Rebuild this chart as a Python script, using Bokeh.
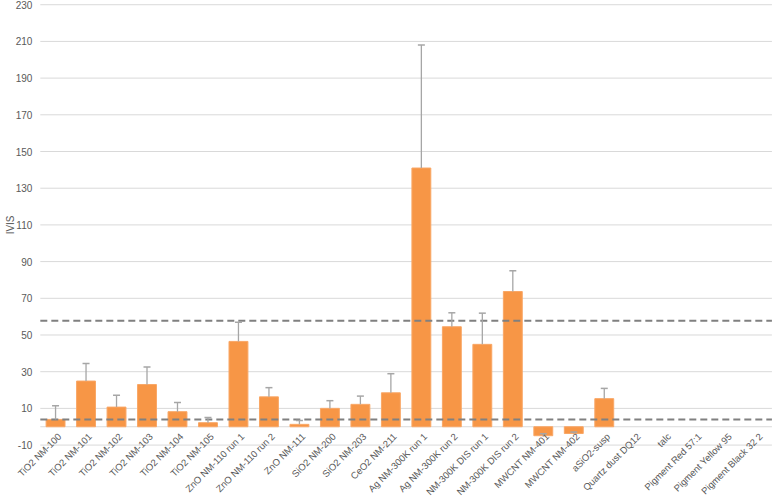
import math
from bokeh.plotting import figure
from bokeh.models import ColumnDataSource, Range1d, Whisker, TeeHead
from bokeh.core.properties import value
from bokeh.embed import file_html
from bokeh.resources import INLINE

categories = ["TiO2 NM-100", "TiO2 NM-101", "TiO2 NM-102", "TiO2 NM-103",
              "TiO2 NM-104", "TiO2 NM-105", "ZnO NM-110 run 1", "ZnO NM-110 run 2",
              "ZnO NM-111", "SiO2 NM-200", "SiO2 NM-203", "CeO2 NM-211",
              "Ag NM-300K run 1", "Ag NM-300K run 2", "NM-300K DIS run 1",
              "NM-300K DIS run 2", "MWCNT NM-401", "MWCNT NM-402", "aSiO2-susp",
              "Quartz dust DQ12", "talc", "Pigment Red 57:1", "Pigment Yellow 95",
              "Pigment Black 32 2"]
ivis = [4.0, 24.9, 10.7, 23.0, 8.2, 2.2, 46.5, 16.3, 1.3, 10.0, 12.2, 18.5,
        141.0, 54.5, 44.9, 73.7, -4.9, -3.7, 15.3, 0, 0, 0, 0, 0]
ivis_sd = [7.4, 9.6, 6.4, 9.5, 5.0, 2.9, 10.5, 5.0, 2.1, 4.2, 4.5, 10.4,
           67.0, 7.6, 17.0, 11.3, 1.1, 0.8, 5.6, 0, 0, 0, 0, 0]
threshold_upper = 57.7
threshold_lower = 4.0
y_ticks = [-10, 10, 30, 50, 70, 90, 110, 130, 150, 170, 190, 210, 230]
y_title = "IVIS"

TEXT = "#595959"
FONT = value("Liberation Sans")

n = len(categories)
xs = list(range(n))
x_lo, x_hi = -0.5, n - 0.5

p = figure(width=776, height=500,
           x_range=Range1d(-1.806, 23.65), y_range=Range1d(-40.2, 232.3),
           output_backend="svg", toolbar_location=None,
           x_axis_location=None, y_axis_location=None,
           min_border_left=0, min_border_right=0, min_border_top=0, min_border_bottom=0)
p.outline_line_color = None
p.xgrid.visible = False
p.ygrid.visible = False

# horizontal gridlines at the value ticks, plus the category axis line at 0
p.segment(x0=[x_lo] * len(y_ticks), x1=[x_hi] * len(y_ticks), y0=y_ticks, y1=y_ticks,
          line_color="#D9D9D9", line_width=1)
p.segment(x0=[x_lo], x1=[x_hi], y0=[0], y1=[0], line_color="#D9D9D9", line_width=1)

# value tick labels
p.text(x=[x_lo] * len(y_ticks), y=y_ticks, text=[str(t) for t in y_ticks],
       x_offset=-8, text_align="right", text_baseline="middle",
       text_font=FONT, text_font_size="10px", text_color=TEXT)
# value axis title
p.text(x=[x_lo], y=[(y_ticks[0] + y_ticks[-1]) / 2], text=[y_title],
       x_offset=-30, angle=math.pi / 2, text_align="center", text_baseline="middle",
       text_font=FONT, text_font_size="10px", text_color=TEXT)

nz = [i for i, v in enumerate(ivis) if v != 0]
src = ColumnDataSource(dict(x=[xs[i] for i in nz], top=[ivis[i] for i in nz]))
p.vbar(x="x", top="top", bottom=0, width=0.62, source=src,
       fill_color="#F79646", line_color="#F9A766", line_width=1)

werr = [i for i, s in enumerate(ivis_sd) if s > 0]
wsrc = ColumnDataSource(dict(x=[xs[i] for i in werr],
                             lower=[ivis[i] for i in werr],
                             upper=[ivis[i] + ivis_sd[i] for i in werr]))
p.add_layout(Whisker(source=wsrc, base="x", lower="lower", upper="upper",
                     line_color="#A6A6A6", line_width=1.3, level="glyph",
                     upper_head=TeeHead(size=7, line_color="#A6A6A6", line_width=1.5),
                     lower_head=None))

for loc in (threshold_upper, threshold_lower):
    p.segment(x0=[x_lo], x1=[x_hi], y0=[loc], y1=[loc], line_color="#808080",
              line_width=2, line_dash="7 4")

# category labels, rotated, hanging from the zero line
p.text(x=xs, y=[0] * n, text=categories, angle=math.radians(45),
       text_align="right", text_baseline="middle", x_offset=4, y_offset=8,
       text_font=FONT, text_font_size="9.5px", text_color=TEXT)

open("out.html", "w").write(file_html(p, INLINE))
